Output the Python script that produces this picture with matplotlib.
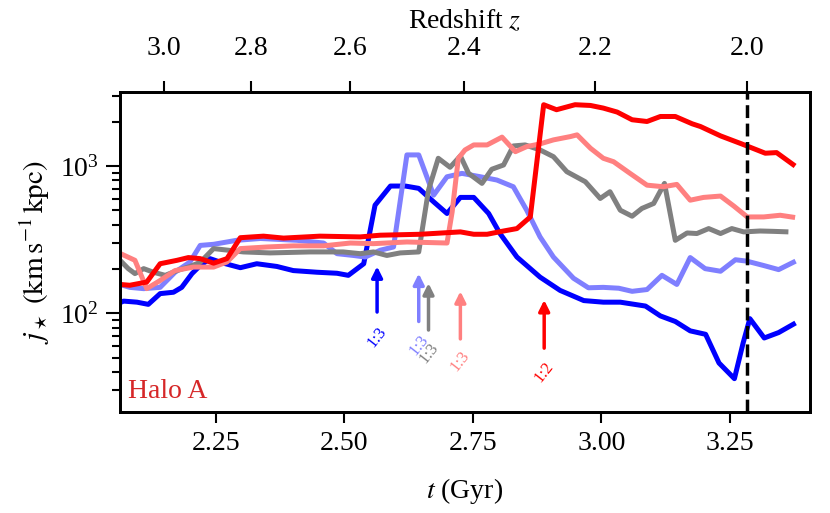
#!/usr/bin/env python3
# -*- coding: utf-8 -*-

import numpy as np
import matplotlib as mpl
mpl.use("Agg")
from matplotlib import pyplot as plt

# ---- data (t in Gyr, j in km/s kpc) ----
t_blue = [2.064, 2.071, 2.097, 2.119, 2.142, 2.168, 2.184, 2.204, 2.220, 2.239,
          2.265, 2.298, 2.330, 2.369, 2.401, 2.447, 2.486, 2.508, 2.538, 2.560,
          2.590, 2.619, 2.645, 2.674, 2.700, 2.726, 2.752, 2.781, 2.803, 2.836,
          2.881, 2.920, 2.966, 3.004, 3.037, 3.086, 3.115, 3.144, 3.173, 3.203,
          3.229, 3.259, 3.276, 3.289, 3.317, 3.345, 3.378]
j_blue = [118, 121, 119, 115, 136, 139, 150, 186, 211, 235,
          219, 204, 217, 208, 195, 190, 187, 181, 217, 542,
          731, 731, 705, 571, 476, 612, 612, 476, 348, 241,
          176, 143, 122, 119, 119, 112, 96, 88, 76, 72,
          46, 36, 63, 92, 68, 74, 86]

t_lblue = [2.064, 2.083, 2.110, 2.142, 2.171, 2.200, 2.220, 2.246, 2.291, 2.337,
           2.408, 2.460, 2.486, 2.518, 2.541, 2.570, 2.596, 2.622, 2.645, 2.674,
           2.700, 2.729, 2.765, 2.797, 2.829, 2.855, 2.881, 2.907, 2.946, 2.975,
           3.004, 3.034, 3.060, 3.089, 3.118, 3.147, 3.173, 3.202, 3.232, 3.261,
           3.283, 3.316, 3.345, 3.378]
j_lblue = [157, 150, 147, 150, 190, 223, 289, 294, 313, 322,
           313, 300, 254, 247, 241, 268, 282, 1189, 1189, 634,
           845, 891, 845, 803, 723, 501, 330, 241, 173, 149,
           150, 148, 141, 145, 181, 157, 239, 201, 193, 231,
           226, 211, 198, 226]

t_gray = [2.064, 2.080, 2.093, 2.110, 2.129, 2.152, 2.175, 2.200, 2.220, 2.246,
          2.304, 2.356, 2.434, 2.498, 2.531, 2.557, 2.583, 2.609, 2.645, 2.664,
          2.683, 2.706, 2.726, 2.742, 2.768, 2.787, 2.810, 2.829, 2.852, 2.881,
          2.907, 2.933, 2.969, 2.998, 3.017, 3.037, 3.060, 3.079, 3.102, 3.123,
          3.144, 3.167, 3.186, 3.209, 3.232, 3.254, 3.277, 3.309, 3.335, 3.364]
j_gray = [229, 201, 186, 201, 190, 181, 195, 208, 222, 275,
          261, 257, 261, 261, 254, 261, 247, 257, 261, 686,
          1128, 980, 1170, 891, 762, 950, 1016, 1368, 1390, 1285,
          1157, 915, 782, 602, 669, 501, 456, 515, 557, 762,
          313, 351, 348, 376, 348, 376, 357, 362, 360, 357]

t_pink = [2.064, 2.093, 2.116, 2.142, 2.171, 2.207, 2.246, 2.272, 2.298, 2.350,
          2.401, 2.460, 2.512, 2.557, 2.622, 2.700, 2.710, 2.722, 2.735, 2.752,
          2.778, 2.807, 2.833, 2.855, 2.881, 2.907, 2.940, 2.953, 2.979, 3.004,
          3.024, 3.056, 3.089, 3.121, 3.147, 3.173, 3.199, 3.232, 3.258, 3.284,
          3.316, 3.348, 3.377]
j_pink = [255, 229, 147, 167, 195, 206, 206, 223, 275, 282,
          287, 287, 300, 297, 305, 300, 488, 1128, 1285, 1390,
          1390, 1570, 1251, 1354, 1413, 1504, 1584, 1627, 1320, 1128,
          1069, 891, 741, 723, 750, 586, 612, 625, 534, 451,
          451, 463, 447]

t_red = [2.064, 2.083, 2.116, 2.142, 2.175, 2.197, 2.220, 2.246, 2.272, 2.298,
         2.343, 2.382, 2.453, 2.531, 2.570, 2.648, 2.726, 2.752, 2.778, 2.810,
         2.836, 2.862, 2.888, 2.913, 2.949, 2.979, 3.004, 3.031, 3.060, 3.089,
         3.115, 3.144, 3.177, 3.193, 3.232, 3.273, 3.319, 3.341, 3.377]
j_red = [157, 155, 163, 217, 229, 239, 235, 219, 235, 326,
         334, 324, 334, 330, 339, 344, 357, 344, 344, 362,
         376, 451, 2606, 2410, 2606, 2576, 2472, 2323, 2060, 2005,
         2168, 2168, 1933, 1853, 1601, 1413, 1221, 1233, 1000]

# mergers: time, arrow tail, arrow tip, label position, ratio
merger_t = [2.564, 2.645, 2.664, 2.726, 2.889]
merger_tail = [102, 88, 77, 67, 58]
merger_tip = [208, 186, 160, 141, 123]
merger_label_j = [69, 61, 54, 47, 40]
merger_ratio = ['1:3', '1:3', '1:3', '1:3', '1:2']

z_ticks = [3.0, 2.8, 2.6, 2.4, 2.2, 2.0]

colors = ['#0000ff', '#7f7fff', '#808080', '#ff8080', '#ff0000']


def z_to_t(z, H0=67.7, Om=0.31):
    # flat LCDM age of the universe in Gyr
    OL = 1. - Om
    th = 977.8 / H0
    return 2. / (3. * np.sqrt(OL)) * th * np.arcsinh(np.sqrt(OL / Om) * (1. + np.asarray(z)) ** -1.5)


def main():
    plt.rcParams['font.family'] = ['Liberation Serif', 'DejaVu Serif']
    plt.rcParams['mathtext.fontset'] = 'stix'
    plt.rcParams['font.size'] = 20

    fig = plt.figure(figsize=(8.3, 5.13), dpi=100)
    ax = fig.add_axes([0.1446, 0.197, 0.8313, 0.6237])

    series = [(t_blue, j_blue), (t_lblue, j_lblue), (t_gray, j_gray),
              (t_pink, j_pink), (t_red, j_red)]
    for (t, j), c in zip(series, colors):
        ax.plot(t, j, color=c, lw=3.6, solid_joinstyle='round', solid_capstyle='butt')

    for i in range(len(merger_t)):
        c = colors[i]
        ax.annotate('', xy=(merger_t[i], merger_tip[i]), xytext=(merger_t[i], merger_tail[i]),
                    arrowprops=dict(arrowstyle='-|>', color=c, lw=2.5, mutation_scale=16,
                                    shrinkA=0, shrinkB=0))
        ax.text(merger_t[i], merger_label_j[i], merger_ratio[i], color=c, rotation=52,
                ha='center', va='center', fontsize=12)

    ax.axvline(z_to_t(2.0), color='k', ls='--', lw=2.5)

    ax.set_yscale('log')
    ax.set_xlim(2.064, 3.406)
    ax.set_ylim(21.4, 3180)
    ax.set_xticks([2.25, 2.50, 2.75, 3.00, 3.25])
    ax.set_xticklabels(['2.25', '2.50', '2.75', '3.00', '3.25'])
    ax.xaxis.set_minor_locator(mpl.ticker.NullLocator())
    ax.tick_params(axis='x', which='major', direction='out', length=8, width=1.5, pad=6)
    ax.tick_params(axis='y', which='major', direction='out', length=10, width=1.5, right=False, pad=5)
    ax.tick_params(axis='y', which='minor', direction='out', length=6, width=1.5, right=False)
    for s in ax.spines.values():
        s.set_linewidth(2)

    ax.set_xlabel(r'$t$ (Gyr)', labelpad=14)
    ax.set_ylabel(r'$j_\star\ (\mathrm{km\,s^{-1}\,kpc})$', fontsize=21, labelpad=6)
    ax.text(0.012, 0.025, 'Halo A', color='#d62728', transform=ax.transAxes,
            ha='left', va='bottom')

    ax2 = ax.twiny()
    ax2.set_xlim(ax.get_xlim())
    ax2.set_xticks(z_to_t(z_ticks))
    ax2.set_xticklabels(['%.1f' % z for z in z_ticks])
    ax2.xaxis.set_minor_locator(mpl.ticker.NullLocator())
    ax2.tick_params(axis='x', direction='out', length=8, width=1.5, pad=14)
    ax2.set_xlabel(r'Redshift $z$', labelpad=6)
    for s in ax2.spines.values():
        s.set_linewidth(2)

    plt.savefig('out.png', dpi=100)

    return


if __name__ == "__main__":
    main()
